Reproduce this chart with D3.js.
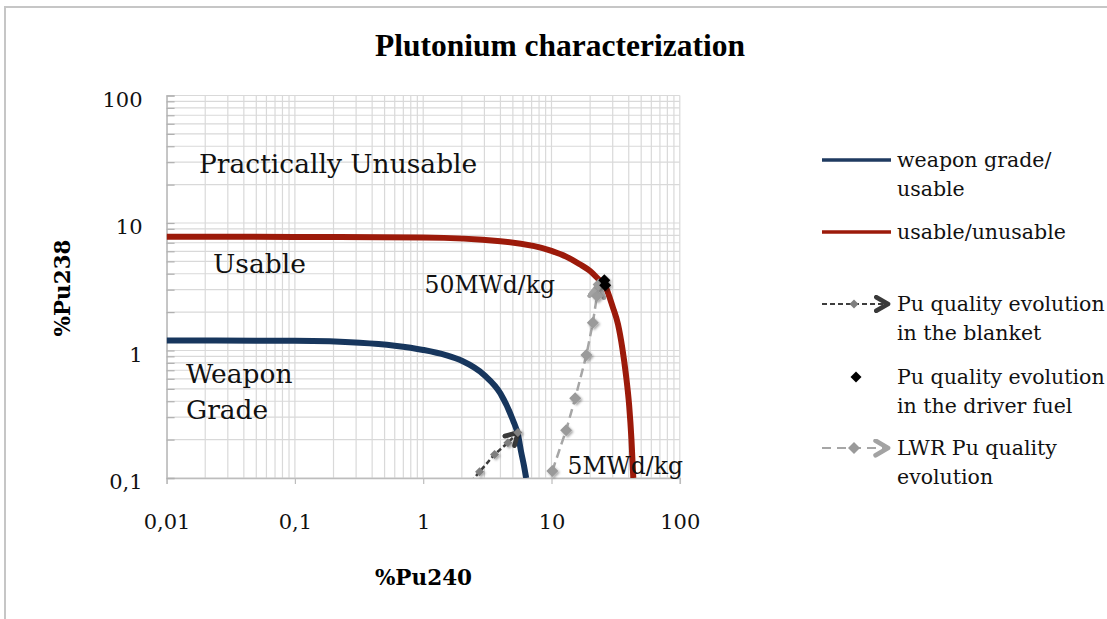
<!DOCTYPE html>
<html>
<head>
<meta charset="utf-8">
<script src="https://cdnjs.cloudflare.com/ajax/libs/d3/7.8.5/d3.min.js"></script>
<style>
body{margin:0;background:#fff;}
svg{display:block;font-family:"DejaVu Serif",serif;}
</style>
</head>
<body>
<div class="container"></div>
<script>
const xTicks = [0.01, 0.1, 1, 10, 100]
const yTicks = [0.1, 1, 10, 100]
const tickLabel = (v)=> String(v).replace(".", ",")

const weaponPu240 = [0.01, 0.1, 0.32, 0.6, 1, 1.5, 2, 3, 4, 5, 5.5, 5.8, 6.1, 6.35]
const weaponPu238 = [1.2, 1.19, 1.15, 1.09, 1.01, 0.92, 0.83, 0.64, 0.46, 0.285, 0.215, 0.16, 0.125, 0.1]

const usablePu240 = [0.01, 0.1, 1, 4, 10, 13, 16.6, 20, 23.4, 26, 30, 33, 35.6, 38, 40.3, 42, 43.4]
const usablePu238 = [7.8, 7.78, 7.7, 7.2, 6.05, 5.45, 4.75, 4.2, 3.6, 3.25, 2.2, 1.6, 1.05, 0.65, 0.37, 0.2, 0.1]

const blanketPu240 = [2.15, 2.75, 3.6, 4.57, 5.47]
const blanketPu238 = [0.083, 0.112, 0.153, 0.189, 0.227]

const driverPu240 = [25.8, 26.2]
const driverPu238 = [3.55, 3.25]

const lwrPu240 = [10.15, 13.0, 15.3, 18.7, 21.0, 22.6, 23.3]
const lwrPu238 = [0.1135, 0.237, 0.422, 0.92, 1.65, 2.68, 3.3]

const regionLabels = [
    {lines:["Practically Unusable"], px:0.0179, py:24.7},
    {lines:["Usable"], px:0.023, py:4.05},
    {lines:["Weapon","Grade"], px:0.01416, py:0.561}
]
const burnupLabels = [
    {text:"50MWd/kg", px:1.025, py:2.82},
    {text:"5MWd/kg", px:13.35, py:0.1075}
]

const legendLabels = [
    ["weapon grade/","usable"],
    ["usable/unusable"],
    ["Pu quality evolution","in the blanket"],
    ["Pu quality evolution","in the driver fuel"],
    ["LWR Pu quality","evolution"]
]

const zip = (a, b)=> a.map((v, i)=> [v, b[i]])

const svg = d3.select(".container")
              .append("svg")
              .attr("width", 1107)
              .attr("height", 619)

const x = d3.scaleLog().domain([0.01, 100]).range([166.6, 679.8])
const y = d3.scaleLog().domain([0.1, 100]).range([478, 95.5])

const defs = svg.append("defs")
defs.append("clipPath").attr("id", "plotClip")
    .append("rect")
    .attr("x", x.range()[0]).attr("y", y.range()[1])
    .attr("width", x.range()[1] - x.range()[0])
    .attr("height", y.range()[0] - y.range()[1])

const shadow = defs.append("filter").attr("id", "shadow")
                   .attr("x", "-50%").attr("y", "-50%").attr("width", "200%").attr("height", "200%")
shadow.append("feDropShadow").attr("dx", 1.5).attr("dy", 1.5)
      .attr("stdDeviation", 1.2).attr("flood-color", "#000").attr("flood-opacity", 0.35)

const arrow = (id, color, size, width)=>{
    defs.append("marker")
        .attr("id", id)
        .attr("viewBox", "0 0 10 10")
        .attr("refX", 8).attr("refY", 5)
        .attr("markerWidth", size).attr("markerHeight", size)
        .attr("markerUnits", "userSpaceOnUse")
        .attr("orient", "auto")
        .append("path")
        .attr("d", "M1.5,1.2 L8,5 L1.5,8.8")
        .attr("fill", "none")
        .attr("stroke", color)
        .attr("stroke-width", width)
        .attr("stroke-linecap", "round")
        .attr("stroke-linejoin", "round")
}
arrow("arrowDark", "#3a3a3a", 18, 2.6)
arrow("arrowLight", "#a3a3a3", 19, 2.5)

// frame
svg.append("path")
   .attr("d", "M5,619 V7 H1107")
   .attr("fill", "none")
   .attr("stroke", "#c6c6c6")
   .attr("stroke-width", 2)

// grid
const grid = svg.append("g")
grid.selectAll(".gx").data(x.ticks()).join("line")
    .attr("x1", d=>x(d)).attr("x2", d=>x(d))
    .attr("y1", y.range()[1]).attr("y2", y.range()[0])
    .attr("stroke", "#d9d9d9").attr("stroke-width", 1.2)
grid.selectAll(".gy").data(y.ticks()).join("line")
    .attr("y1", d=>y(d)).attr("y2", d=>y(d))
    .attr("x1", x.range()[0]).attr("x2", x.range()[1])
    .attr("stroke", "#d9d9d9").attr("stroke-width", 1.2)

// axes
const xAxis = svg.append("g")
                 .attr("transform", "translate(0," + y.range()[0] + ")")
                 .call(d3.axisBottom(x).tickValues(xTicks).tickSize(6).tickPadding(30).tickFormat(tickLabel))
xAxis.select(".domain").attr("stroke", "#bdbdbd").attr("stroke-width", 1.5)
xAxis.selectAll(".tick line").attr("stroke", "#bdbdbd").attr("stroke-width", 1.2)
xAxis.selectAll("text").attr("font-family", "DejaVu Serif").attr("font-size", 21).attr("fill", "#111")

const yMinor = svg.append("g")
                  .attr("transform", "translate(" + x.range()[0] + ",0)")
                  .call(d3.axisLeft(y).tickValues(y.ticks()).tickSize(-8).tickFormat(""))
yMinor.select(".domain").attr("stroke", "#bdbdbd").attr("stroke-width", 1.5)
yMinor.selectAll(".tick line").attr("stroke", "#b0b0b0").attr("stroke-width", 1.2)

const yAxis = svg.append("g")
                 .attr("transform", "translate(" + x.range()[0] + ",0)")
                 .call(d3.axisLeft(y).tickValues(yTicks).tickSize(0).tickPadding(24).tickFormat(tickLabel))
yAxis.select(".domain").remove()
yAxis.selectAll("text").attr("font-family", "DejaVu Serif").attr("font-size", 21).attr("fill", "#111").attr("dy", "0.5em")

// curves
const curve = d3.line().x(d=>x(d[0])).y(d=>y(d[1])).curve(d3.curveMonotoneX)
const straight = d3.line().x(d=>x(d[0])).y(d=>y(d[1]))

const plot = svg.append("g").attr("clip-path", "url(#plotClip)")

plot.append("path")
    .attr("d", curve(zip(weaponPu240, weaponPu238)))
    .attr("fill", "none").attr("stroke", "#17365d").attr("stroke-width", 6)

plot.append("path")
    .attr("d", curve(zip(usablePu240, usablePu238)))
    .attr("fill", "none").attr("stroke", "#9c1a0a").attr("stroke-width", 6)

const diamond = (s)=> "M0," + (-s) + " L" + s + ",0 L0," + s + " L" + (-s) + ",0 Z"

plot.append("path")
    .attr("d", straight(zip(blanketPu240, blanketPu238)))
    .attr("fill", "none").attr("stroke", "#3d3d3d").attr("stroke-width", 2.5)
    .attr("stroke-dasharray", "5,3")
    .attr("marker-end", "url(#arrowDark)")

svg.append("g").selectAll("path")
   .data(zip(blanketPu240, blanketPu238).filter(d=>d[1] >= 0.1))
   .join("path")
   .attr("transform", d=>"translate(" + x(d[0]) + "," + y(d[1]) + ")")
   .attr("d", diamond(4.5))
   .attr("fill", "#7f7f7f")
   .attr("filter", "url(#shadow)")

plot.append("path")
    .attr("d", straight(zip(lwrPu240, lwrPu238)))
    .attr("fill", "none").attr("stroke", "#a6a6a6").attr("stroke-width", 2.5)
    .attr("stroke-dasharray", "9,5")
    .attr("marker-end", "url(#arrowLight)")

svg.append("g").selectAll("path")
   .data(zip(lwrPu240, lwrPu238))
   .join("path")
   .attr("transform", d=>"translate(" + x(d[0]) + "," + y(d[1]) + ")")
   .attr("d", diamond(6))
   .attr("fill", "#9a9a9a")
   .attr("filter", "url(#shadow)")

svg.append("g").selectAll("path")
   .data(zip(driverPu240, driverPu238))
   .join("path")
   .attr("transform", d=>"translate(" + x(d[0]) + "," + y(d[1]) + ")")
   .attr("d", diamond(6))
   .attr("fill", "#000")
   .attr("filter", "url(#shadow)")

// texts
svg.append("text")
   .attr("x", 560).attr("y", 56)
   .attr("text-anchor", "middle")
   .attr("font-family", "Liberation Serif")
   .attr("font-weight", "bold")
   .attr("font-size", 31.5)
   .text("Plutonium characterization")

regionLabels.forEach((r)=>{
    const t = svg.append("text")
                 .attr("x", x(r.px)).attr("y", y(r.py))
                 .attr("font-size", 26.5).attr("fill", "#111")
    r.lines.forEach((l, i)=>{
        t.append("tspan").attr("x", x(r.px)).attr("dy", i ? 36.5 : 0).text(l)
    })
})

svg.selectAll(".burnup").data(burnupLabels).join("text")
   .attr("x", d=>x(d.px)).attr("y", d=>y(d.py))
   .attr("font-size", 23.5).attr("fill", "#111")
   .text(d=>d.text)

svg.append("text")
   .attr("x", 423.5).attr("y", 585)
   .attr("text-anchor", "middle")
   .attr("font-weight", "bold").attr("font-size", 21.5)
   .text("%Pu240")

svg.append("text")
   .attr("transform", "translate(70,288) rotate(-90)")
   .attr("text-anchor", "middle")
   .attr("font-weight", "bold").attr("font-size", 21.5)
   .text("%Pu238")

// legend
const legendY = [160, 232, 304, 377, 448]
const legend = svg.append("g")

legend.append("line").attr("x1", 822).attr("x2", 891).attr("y1", legendY[0]).attr("y2", legendY[0])
      .attr("stroke", "#1f3a60").attr("stroke-width", 3.5)
legend.append("line").attr("x1", 822).attr("x2", 891).attr("y1", legendY[1]).attr("y2", legendY[1])
      .attr("stroke", "#9c1a0a").attr("stroke-width", 3.5)

legend.append("path").attr("d", "M822," + legendY[2] + " H888")
      .attr("stroke", "#3d3d3d").attr("stroke-width", 2.2).attr("stroke-dasharray", "5,3")
      .attr("marker-end", "url(#arrowDark)")
legend.append("path").attr("transform", "translate(854," + legendY[2] + ")")
      .attr("d", diamond(4.5)).attr("fill", "#7f7f7f")

legend.append("path").attr("transform", "translate(856," + legendY[3] + ")")
      .attr("d", diamond(5.5)).attr("fill", "#000")

legend.append("path").attr("d", "M822," + legendY[4] + " H888")
      .attr("stroke", "#a6a6a6").attr("stroke-width", 2.2).attr("stroke-dasharray", "9,6")
      .attr("marker-end", "url(#arrowLight)")
legend.append("path").attr("transform", "translate(854," + legendY[4] + ")")
      .attr("d", diamond(6)).attr("fill", "#9a9a9a")

legendLabels.forEach((lines, i)=>{
    const t = legend.append("text")
                    .attr("x", 897).attr("y", legendY[i] + 7)
                    .attr("font-size", 20.5).attr("fill", "#111")
    lines.forEach((l, j)=>{
        t.append("tspan").attr("x", 897).attr("dy", j ? 29 : 0).text(l)
    })
})
</script>
</body>
</html>
